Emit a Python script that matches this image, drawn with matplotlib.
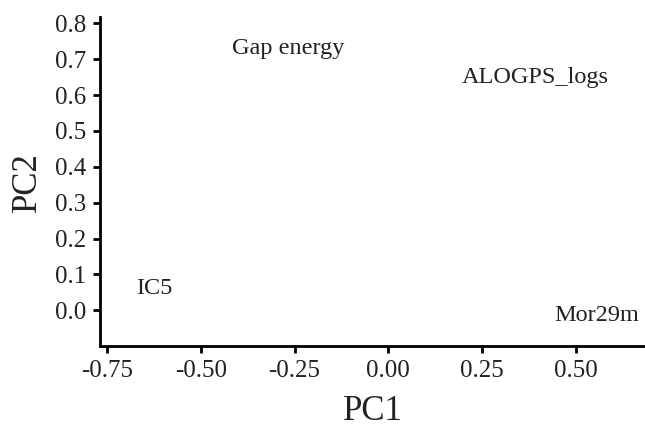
import matplotlib.pyplot as plt

# loadings (PC1, PC2)
names = ["Gap energy", "ALOGPS_logs", "IC5", "Mor29m"]
pc1 = [-0.267, 0.392, -0.624, 0.557]
pc2 = [0.73, 0.649, 0.061, -0.014]

xticks = [-0.75, -0.50, -0.25, 0.00, 0.25, 0.50]
yticks = [0.0, 0.1, 0.2, 0.3, 0.4, 0.5, 0.6, 0.7, 0.8]

plt.rcParams['font.family'] = ['Liberation Serif', 'DejaVu Serif']

fig = plt.figure(figsize=(6.45, 4.3), dpi=100)
ax = fig.add_axes([0.155, 0.195, 0.845, 0.765])

for n, x, y in zip(names, pc1, pc2):
    ax.text(x, y, n, ha='center', va='center', fontsize=17.5, color='#222222')

ax.set_xlim(-0.769, 0.685)
ax.set_ylim(-0.10, 0.817)
ax.set_xticks(xticks)
ax.set_xticklabels(["%.2f" % v for v in xticks])
ax.set_yticks(yticks)
ax.set_yticklabels(["%.1f" % v for v in yticks])

for s in ['top', 'right']:
    ax.spines[s].set_visible(False)
for s in ['left', 'bottom']:
    ax.spines[s].set_linewidth(2)
ax.tick_params(width=2, length=5, labelsize=18, pad=5, labelcolor='#222222')

ax.set_xlabel("PC1", fontsize=25, labelpad=9, color='#222222')
ax.set_ylabel("PC2", fontsize=25, labelpad=8, color='#222222')

fig.savefig("out.png", dpi=100)
